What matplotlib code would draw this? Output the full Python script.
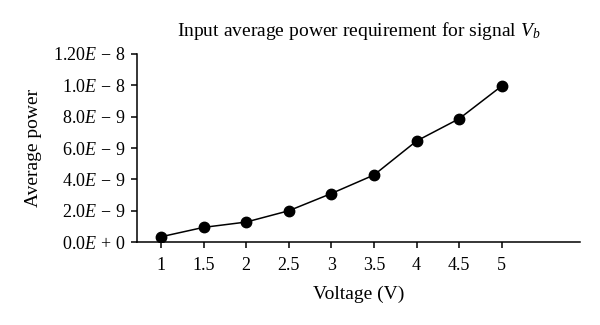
import matplotlib.pyplot as plt
from matplotlib.ticker import FixedLocator, FixedFormatter

# data
voltage = [1, 1.5, 2, 2.5, 3, 3.5, 4, 4.5, 5]
avg_power = [0.34e-9, 0.94e-9, 1.28e-9, 2.0e-9, 3.1e-9, 4.28e-9, 6.45e-9, 7.87e-9, 9.96e-9]

x_tick_labels = ['1', '1.5', '2', '2.5', '3', '3.5', '4', '4.5', '5']
y_ticks = [0, 2e-9, 4e-9, 6e-9, 8e-9, 1e-8, 1.2e-8]
y_tick_labels = [r'$0.0E\,+\,0$', r'$2.0E\,-\,9$', r'$4.0E\,-\,9$', r'$6.0E\,-\,9$',
                 r'$8.0E\,-\,9$', r'$1.0E\,-\,8$', r'$1.20E\,-\,8$']

plt.rcParams['font.family'] = ['Liberation Serif', 'DejaVu Serif']
plt.rcParams['mathtext.fontset'] = 'custom'
plt.rcParams['mathtext.rm'] = 'Liberation Serif'
plt.rcParams['mathtext.it'] = 'Liberation Serif:italic'
plt.rcParams['mathtext.bf'] = 'Liberation Serif:bold'

fig = plt.figure(figsize=(6, 3.25), dpi=100)
ax = fig.add_axes([0.228, 0.255, 0.739, 0.579])

ax.plot(voltage, avg_power, color='black', linewidth=1.1,
        marker='o', markersize=7.5, markerfacecolor='black')

ax.set_xlim(0.717, 5.92)
ax.set_ylim(0, 1.2e-8)
ax.xaxis.set_major_locator(FixedLocator(voltage))
ax.xaxis.set_major_formatter(FixedFormatter(x_tick_labels))
ax.yaxis.set_major_locator(FixedLocator(y_ticks))
ax.yaxis.set_major_formatter(FixedFormatter(y_tick_labels))

for side in ['top', 'right']:
    ax.spines[side].set_visible(False)
for side in ['left', 'bottom']:
    ax.spines[side].set_linewidth(1.1)

ax.tick_params(direction='out', length=4, width=1.1, labelsize=13, pad=4)
ax.tick_params(axis='x', pad=7)

ax.set_xlabel('Voltage (V)', fontsize=14, labelpad=8)
ax.set_ylabel('Average power', fontsize=14, labelpad=8)
ax.set_title(r'Input average power requirement for signal $V_b$', fontsize=14, pad=13)

fig.savefig('out.png', dpi=100)
